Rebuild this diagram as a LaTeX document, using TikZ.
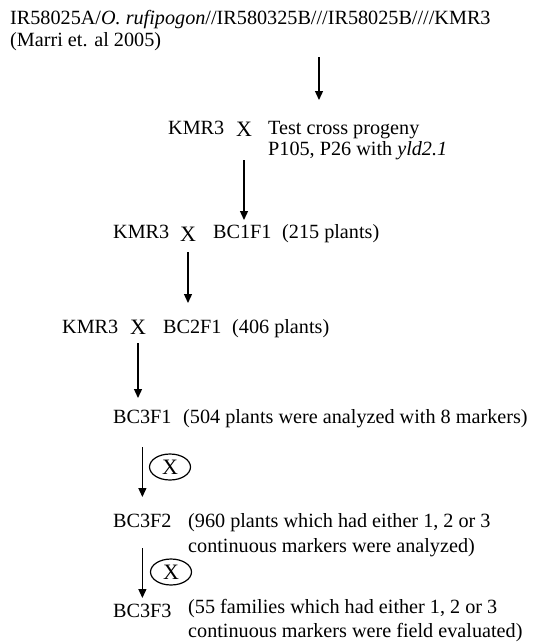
\documentclass[tikz,border=0pt]{standalone}
\usepackage{fontspec}
\setmainfont{Liberation Serif}
\usetikzlibrary{positioning, arrows.meta, shapes.geometric, calc}

\begin{document}
\begin{tikzpicture}[x=1pt,y=-1pt,
  txt/.style={anchor=base west,inner sep=0pt,font=\fontsize{20.2}{23}\selectfont},
  cross/.style={anchor=base,inner sep=0pt,font=\fontsize{22}{25}\selectfont},
  selfx/.style={draw,ellipse,line width=1.2pt,inner sep=0pt,
                minimum width=41pt,minimum height=26pt,font=\fontsize{22}{25}\selectfont},
  arr/.style={-{Triangle[length=9pt,width=8pt]},line width=1.3pt}]
  \useasboundingbox (0,0) rectangle (533,643);
  % parental cross
  \node[txt] (parents) at (10,24) {IR58025A/\textit{O. rufipogon}//IR580325B///IR58025B////KMR3};
  \node[txt] (marri) at ([yshift=-22pt]parents.base west) {(Marri et. al 2005)};
  \coordinate (down1) at (319,0);
  % test cross
  \node[txt] (kmra) at (168,134) {KMR3};
  \node[cross] (xa) at (244,136) {X};
  \node[txt] (test) at (268,134) {Test cross progeny};
  \node[txt] (p105) at ([yshift=-21pt]test.base west) {P105, P26 with \textit{yld2.1}};
  % BC1
  \node[txt] (kmrb) at (113,238) {KMR3};
  \node[cross] (xb) at (188,241) {X};
  \node[txt] (bc1) at (213,238) {BC1F1};
  \node[txt] (n215) at (282,238) {(215 plants)};
  % BC2
  \node[txt] (kmrc) at (62,333) {KMR3};
  \node[cross] (xc) at (138,334) {X};
  \node[txt] (bc2) at (163,333) {BC2F1};
  \node[txt] (n406) at (232,333) {(406 plants)};
  % BC3 generations
  \node[txt] (bc3f1) at (113,423) {BC3F1};
  \node[txt] (n504) at (183,423) {(504 plants were analyzed with 8 markers)};
  \node[txt] (bc3f2) at (113,527) {BC3F2};
  \node[txt] (n960) at (188,527) {(960 plants which had either 1, 2 or 3};
  \node[txt] (n960b) at ([yshift=-25pt]n960.base west) {continuous markers were analyzed)};
  \node[txt] (bc3f3) at (113,617) {BC3F3};
  \node[txt] (n55) at (188,613) {(55 families which had either 1, 2 or 3};
  \node[txt] (n55b) at ([yshift=-24pt]n55.base west) {continuous markers were field evaluated)};
  \node[selfx] (self1) at (170,467) {X};
  \node[selfx] (self2) at (171,572) {X};
  % arrows
  \draw[arr] ($(down1 |- marri.base)+(0,11)$) -- ($(down1 |- test.base)+(0,-34)$);
  \draw[arr] ($(xa.base)+(0,24)$) -- ($(xa.base |- bc1.base)+(0,-18)$);
  \draw[arr] ($(xb.base)+(0,11)$) -- ($(xb.base |- bc2.base)+(0,-30)$);
  \draw[arr] ($(xc.base)+(0,9)$) -- ($(xc.base |- bc3f1.base)+(0,-25)$);
  \draw[arr] ($(bc3f1.base)+(0,24)$) -- ($(bc3f1.base |- bc3f2.base)+(0,-30)$);
  \draw[arr] ($(bc3f2.base)+(0,21)$) -- ($(bc3f2.base |- bc3f3.base)+(0,-19)$);
\end{tikzpicture}
\end{document}
